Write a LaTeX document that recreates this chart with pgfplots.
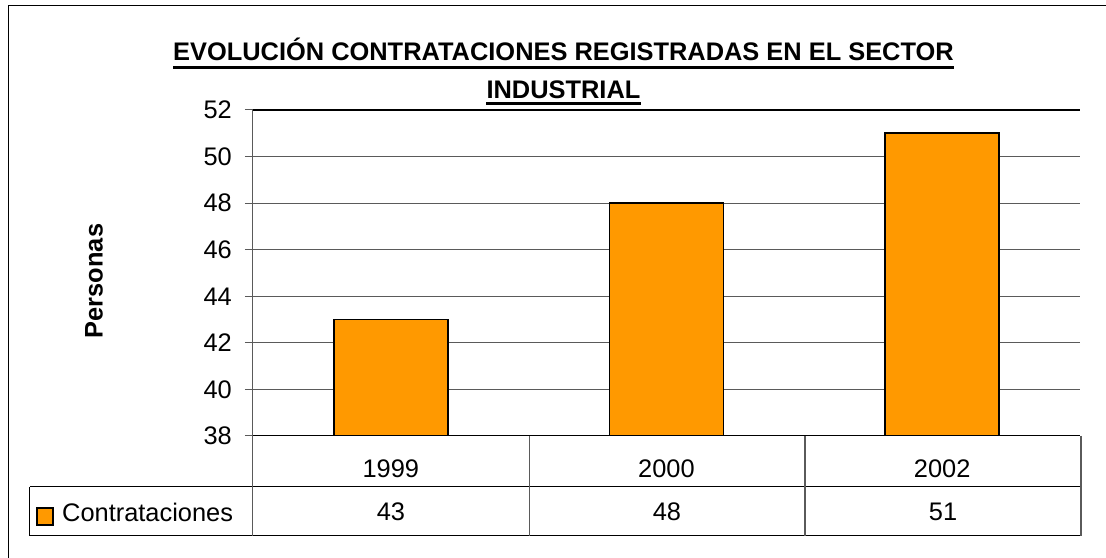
\documentclass[border=0pt]{standalone}
\usepackage{fontspec}
\setmainfont{Liberation Sans}
\usepackage{pgfplots}
\pgfplotsset{compat=1.18}
\usetikzlibrary{calc}
\definecolor{barorange}{RGB}{255,153,0}
\definecolor{gridgray}{RGB}{90,90,90}

\begin{document}
\fontsize{25.5}{30}\selectfont
\begin{tikzpicture}[font=\fontsize{25.5}{30}\selectfont]
\begin{axis}[
  scale only axis,
  width=827bp, height=326bp,
  xmin=-0.5, xmax=2.5,
  ymin=38, ymax=52,
  ytick={38,40,...,52},
  xtick={0,1,2},
  xticklabels={1999,2000,2002},
  axis lines*=left,
  x axis line style={black, line width=1bp},
  y axis line style={gridgray, line width=1bp},
  xtick style={draw=none},
  ytick style={gridgray, line width=1bp},
  tick align=outside,
  major tick length=8bp,
  xticklabel style={anchor=center, yshift=-25bp},
  yticklabel style={anchor=east, inner sep=0pt},
  yticklabel shift=13bp,
  ymajorgrids,
  grid style={gridgray, line width=1bp},
  /pgf/number format/assume math mode=true,
]
  \addplot[ybar, bar width=0.413, fill=barorange, draw=black, line width=1.6bp]
    coordinates {(0,43) (1,48) (2,51)};
  \coordinate (O) at (axis cs:-0.5,38);
\end{axis}
\begin{scope}[shift={(O)}, x=1bp, y=-1bp, shift={(-253,-436)}]
  % top border of plot area
  \draw[black, line width=1.2bp] (253,110) -- (1080,110);
  % data table
  \draw[black, line width=1bp] (30,487) -- (1081,487);
  \draw[black, line width=1bp] (30,536) -- (1081,536);
  \draw[black, line width=1bp] (30,487) -- (30,536);
  \draw[gridgray, line width=1bp] (253,436) -- (253,536);
  \draw[gridgray, line width=1.2bp] (529.5,436) -- (529.5,536);
  \draw[gridgray, line width=1.2bp] (805,436) -- (805,536);
  \draw[gridgray, line width=1.2bp] (1081,436) -- (1081,536);
  \draw[black, line width=1.2bp, fill=barorange] (37,508) rectangle (53,525);
  \node[anchor=west, inner sep=0pt] at (62,512) {Contrataciones};
  \node at (391,512) {43};
  \node at (667,512) {48};
  \node at (943,512) {51};
  % y label
  \node[rotate=90, font=\fontsize{25.5}{30}\selectfont\bfseries] at (94,281) {Personas};
  % title
  \node[anchor=base, inner sep=0pt, font=\fontsize{25.5}{30}\selectfont\bfseries] (t1) at (563.5,61)
    {EVOLUCIÓN CONTRATACIONES REGISTRADAS EN EL SECTOR};
  \node[anchor=base, inner sep=0pt, font=\fontsize{25.5}{30}\selectfont\bfseries] (t2) at (563.5,99)
    {INDUSTRIAL};
  \draw[black, line width=2.6bp] ($(t1.base west)+(0,6.5)$) -- ($(t1.base east)+(0,6.5)$);
  \draw[black, line width=2.6bp] ($(t2.base west)+(0,4.5)$) -- ($(t2.base east)+(0,4.5)$);
  % outer frame
  \draw[black, line width=1.2bp] (8.5,575) -- (8.5,5.5) -- (1120,5.5);
  \pgfresetboundingbox
  \path[use as bounding box] (0,0) rectangle (1106,558);
\end{scope}
\end{tikzpicture}
\end{document}
